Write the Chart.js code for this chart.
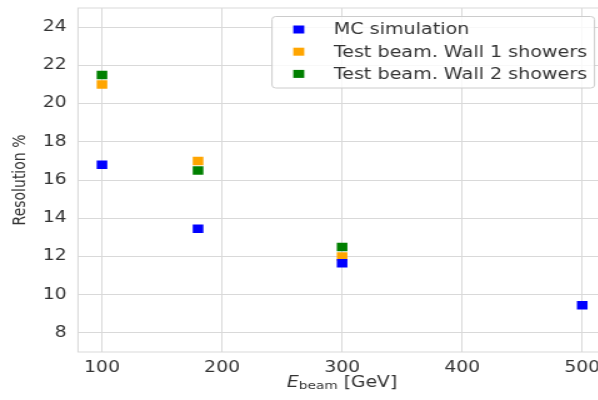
<!DOCTYPE html>
<html>
<head>
<meta charset="utf-8">
<script src="https://cdn.jsdelivr.net/npm/chart.js@4"></script>
<style>
  html, body { margin: 0; padding: 0; background: #fff; overflow: hidden; }
  /* the reference is horizontally stretched, so draw narrow and stretch */
  #wrap { width: 491px; height: 400px; transform: scaleX(1.25); transform-origin: 0 0; }
</style>
</head>
<body>
<div id="wrap"><canvas id="chart" width="491" height="400"></canvas></div>
<script>
// ─── Data ────────────────────────────────────────────────────
const energies = [100, 180, 300, 500];
const mcRes = [16.8, 13.45, 11.65, 9.45];
const wall1Res = [21.0, 17.0, 12.0];
const wall2Res = [21.5, 16.5, 12.5];
const seriesLabels = ['MC simulation', 'Test beam. Wall 1 showers', 'Test beam. Wall 2 showers'];
const xTicks = [100, 200, 300, 400, 500];
const yTicks = [8, 10, 12, 14, 16, 18, 20, 22, 24];

const COLORS = ['#0000ff', '#ffa500', '#008000'];
const GRID = '#d9d9d9';
const TEXT = '#333333';
const FONT = "'DejaVu Sans', sans-serif";

const pts = (ys) => ys.map((y, i) => ({ x: energies[i], y }));

// ─── Plugins: frame, legend box, axis titles ────────────────
const framePlugin = {
  id: 'frame',
  beforeDatasetsDraw(chart) {
    const { ctx, chartArea: a } = chart;
    ctx.save();
    ctx.strokeStyle = GRID;
    ctx.lineWidth = 1;
    ctx.strokeRect(a.left, a.top, a.right - a.left, a.bottom - a.top);
    ctx.restore();
  }
};

const legendBox = {
  id: 'legendBox',
  afterDraw(chart) {
    const { ctx } = chart;
    const x0 = 217.6, y0 = 16.5, w = 258, h = 71.5, r = 3;
    ctx.save();
    ctx.beginPath();
    ctx.roundRect(x0, y0, w, h, r);
    ctx.fillStyle = 'rgba(255,255,255,0.8)';
    ctx.fill();
    ctx.strokeStyle = '#cccccc';
    ctx.lineWidth = 1;
    ctx.stroke();
    ctx.font = `15.3px ${FONT}`;
    ctx.textBaseline = 'middle';
    chart.data.datasets.forEach((ds, i) => {
      const y = 29.5 + i * 22.2;
      ctx.fillStyle = ds.backgroundColor;
      ctx.fillRect(239 - 4.4, y - 4, 8.8, 8);
      ctx.fillStyle = TEXT;
      ctx.fillText(ds.label, 267, y + 1);
    });
    ctx.restore();
  }
};

const axisTitles = {
  id: 'axisTitles',
  afterDraw(chart) {
    const { ctx, chartArea: a } = chart;
    ctx.save();
    ctx.fillStyle = TEXT;
    ctx.textBaseline = 'middle';
    // y title
    ctx.save();
    ctx.translate(16, (a.top + a.bottom) / 2);
    ctx.rotate(-Math.PI / 2);
    ctx.textAlign = 'center';
    ctx.font = `14px ${FONT}`;
    ctx.fillText('Resolution %', 0, 0);
    ctx.restore();
    // x title: E_beam [GeV]
    const parts = [
      { t: 'E', f: `italic 15px ${FONT}`, dy: 0 },
      { t: 'beam', f: `11px ${FONT}`, dy: 3 },
      { t: ' [GeV]', f: `15px ${FONT}`, dy: 0 }
    ];
    let total = 0;
    parts.forEach(p => { ctx.font = p.f; p.w = ctx.measureText(p.t).width; total += p.w; });
    let x = 273.6 - total / 2;
    const y = 383;
    ctx.textAlign = 'left';
    parts.forEach(p => { ctx.font = p.f; ctx.fillText(p.t, x, y + p.dy); x += p.w; });
    ctx.restore();
  }
};

// ─── Chart ───────────────────────────────────────────────────
const mk = (i, data) => ({
  label: seriesLabels[i],
  data,
  backgroundColor: COLORS[i],
  borderColor: COLORS[i],
  pointStyle: 'rect',
  pointRadius: 6,
  pointHoverRadius: 6,
  pointBorderWidth: 0,
  showLine: false
});

new Chart(document.getElementById('chart'), {
  type: 'scatter',
  data: {
    datasets: [mk(0, pts(mcRes)), mk(1, pts(wall1Res)), mk(2, pts(wall2Res))]
  },
  options: {
    responsive: false,
    animation: false,
    devicePixelRatio: 1,
    layout: { padding: { left: 0, top: 8, right: 0.6, bottom: 0 } },
    plugins: { legend: { display: false }, tooltip: { enabled: false } },
    scales: {
      x: {
        type: 'linear', min: 80, max: 520,
        afterBuildTicks: (s) => { s.ticks = xTicks.map(v => ({ value: v })); },
        afterFit: (s) => { s.height = 48; s.paddingLeft = 0; s.paddingRight = 0; },
        grid: { color: GRID, drawTicks: false },
        border: { display: false },
        ticks: { color: TEXT, padding: 7, font: { family: FONT, size: 15 } }
      },
      y: {
        type: 'linear', min: 7, max: 25,
        afterBuildTicks: (s) => { s.ticks = yTicks.map(v => ({ value: v })); },
        afterFit: (s) => { s.width = 62.4; s.paddingTop = 0; s.paddingBottom = 0; },
        grid: { color: GRID, drawTicks: false },
        border: { display: false },
        ticks: { color: TEXT, padding: 9, font: { family: FONT, size: 15 } }
      }
    }
  },
  plugins: [framePlugin, legendBox, axisTitles]
});
</script>
</body>
</html>
